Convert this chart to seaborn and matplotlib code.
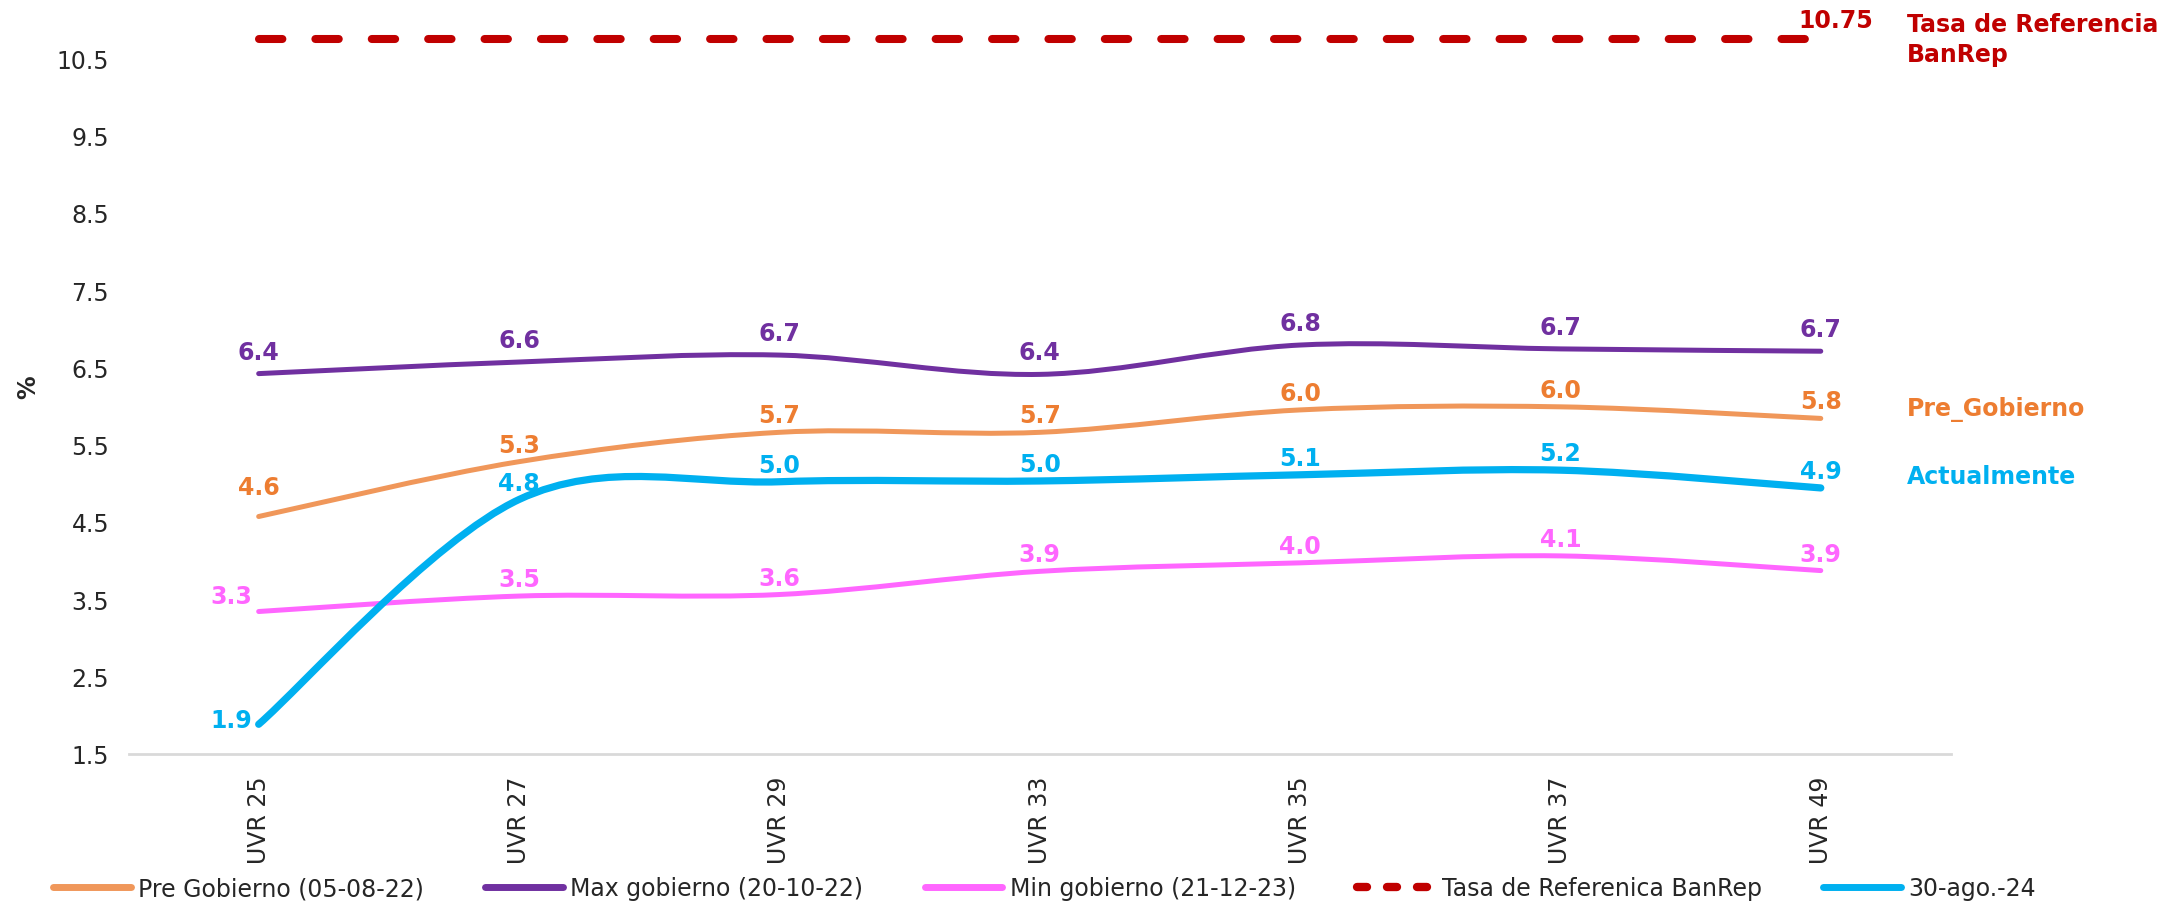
import matplotlib
matplotlib.use("Agg")
import matplotlib.pyplot as plt
import numpy as np
import pandas as pd
import seaborn as sns
from matplotlib.lines import Line2D
from matplotlib.path import Path
from matplotlib.patches import PathPatch

# data
bonos = ["UVR 25", "UVR 27", "UVR 29", "UVR 33", "UVR 35", "UVR 37", "UVR 49"]
pre_gobierno = [4.57, 5.28, 5.66, 5.66, 5.95, 5.99, 5.84]
max_gobierno = [6.42, 6.57, 6.66, 6.41, 6.79, 6.74, 6.71]
min_gobierno = [3.34, 3.54, 3.56, 3.86, 3.97, 4.06, 3.87]
actual = [1.88, 4.79, 5.02, 5.03, 5.11, 5.17, 4.94]
tasa_banrep = [10.75] * len(bonos)

ORANGE = "#F0975A"
ORANGE_TXT = "#ED7D31"
PURPLE = "#7030A0"
PINK = "#FF66FF"
BLUE = "#00B0F0"
RED = "#C00000"


def smooth_path(xs, ys):
    """Excel-like smoothed line (Catmull-Rom as cubic Bezier)"""
    pts = np.column_stack([xs, ys]).astype(float)
    ext = np.vstack([pts[0], pts, pts[-1]])
    verts = [pts[0]]
    codes = [Path.MOVETO]
    for i in range(1, len(ext) - 2):
        p0, p1, p2, p3 = ext[i - 1], ext[i], ext[i + 1], ext[i + 2]
        verts += [p1 + (p2 - p0) / 6, p2 - (p3 - p1) / 6, p2]
        codes += [Path.CURVE4] * 3
    return Path(verts, codes)


sns.set_theme(style="white")
plt.rcParams["font.family"] = ["DejaVu Sans"]

fig = plt.figure(figsize=(21.67, 9.03), dpi=100)
ax = fig.add_axes([0.0593, 0.1643, 0.841, 0.8357])

x = np.arange(len(bonos))
df_ref = pd.DataFrame({"x": x, "y": tasa_banrep})
sns.lineplot(data=df_ref, x="x", y="y", ax=ax, color=RED, linewidth=5.8,
             dashes=False, legend=False)
ref_line = ax.lines[-1]
ref_line.set_dashes((2.9, 4.1))
ref_line.set_dash_capstyle("round")

series = [
    (pre_gobierno, ORANGE, 3.6, ORANGE_TXT),
    (max_gobierno, PURPLE, 3.6, PURPLE),
    (min_gobierno, PINK, 3.6, PINK),
    (actual, BLUE, 5.2, BLUE),
]
for vals, col, lw, _ in series:
    patch = PathPatch(smooth_path(x, vals), facecolor="none", edgecolor=col,
                      linewidth=lw, capstyle="round", joinstyle="round")
    ax.add_patch(patch)

# data labels: (dx, dy) offsets in pixels
for vals, col, lw, tcol in series:
    for i, v in enumerate(vals):
        dx, dy = 0, 17
        if col == PURPLE:
            dy = 22
        if i == 0 and col == BLUE:
            dx, dy = -27, 4
        elif i == 0 and col == PINK:
            dx, dy = -27, 16
        elif i == 0 and col == ORANGE:
            dy = 30
        ax.annotate(f"{v:.1f}", (i, v), xytext=(dx, dy), textcoords="offset pixels",
                    ha="center", va="center", color=tcol, fontsize=17,
                    fontweight="bold")

ax.annotate("10.75", (x[-1], tasa_banrep[-1]), xytext=(15, 19),
            textcoords="offset pixels", ha="center", va="center", color=RED,
            fontsize=17, fontweight="bold")

ax.set_xlim(-0.5, 6.5)
ax.set_ylim(1.5, 11.27)
ax.set_yticks(np.arange(1.5, 11, 1.0))
ax.set_yticklabels([f"{t:.1f}" for t in np.arange(1.5, 11, 1.0)], fontsize=17)
ax.set_xticks(x)
ax.set_xticklabels(bonos, rotation=90, fontsize=17)
ax.tick_params(axis="x", pad=16, length=0)
ax.tick_params(axis="y", pad=14, length=0)
for s in ["top", "right", "left"]:
    ax.spines[s].set_visible(False)
ax.spines["bottom"].set_color("#D9D9D9")
ax.spines["bottom"].set_linewidth(2)
ax.set_xlabel("")
ax.set_ylabel("")

fig.text(28 / 2167, 1 - 387 / 903, "%", rotation=90, ha="center", va="center",
         fontsize=17, fontweight="bold")

# labels on the right
fig.text(1907 / 2167, 1 - 40 / 903, "Tasa de Referencia\nBanRep", ha="left",
         va="center", color=RED, fontsize=17, fontweight="bold", linespacing=1.3)
fig.text(1907 / 2167, 1 - 409 / 903, "Pre_Gobierno", ha="left", va="center",
         color=ORANGE_TXT, fontsize=17, fontweight="bold")
fig.text(1907 / 2167, 1 - 477 / 903, "Actualmente", ha="left", va="center",
         color=BLUE, fontsize=17, fontweight="bold")

handles = [
    Line2D([], [], color=ORANGE, linewidth=5, solid_capstyle="round"),
    Line2D([], [], color=PURPLE, linewidth=5, solid_capstyle="round"),
    Line2D([], [], color=PINK, linewidth=5, solid_capstyle="round"),
    Line2D([], [], color=RED, linewidth=6, dashes=(1.2, 2.4), dash_capstyle="round"),
    Line2D([], [], color=BLUE, linewidth=5, solid_capstyle="round"),
]
labels = ["Pre Gobierno (05-08-22)", "Max gobierno (20-10-22)",
          "Min gobierno (21-12-23)", "Tasa de Referenica BanRep", "30-ago.-24"]
fig.legend(handles, labels, loc="center", bbox_to_anchor=(0.482, 0.0155), ncol=5,
           frameon=False, handlelength=3.3, handletextpad=0.3, columnspacing=2.6,
           prop={"family": ["DejaVu Sans"], "size": 17})

fig.savefig("out.png", dpi=100)
